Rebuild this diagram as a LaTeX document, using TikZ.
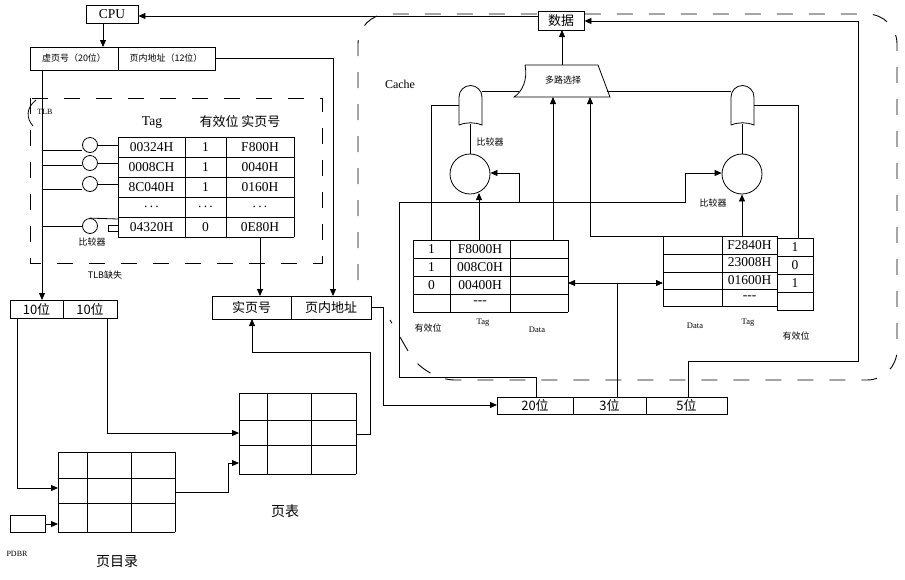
\documentclass[tikz,border=0pt]{standalone}
\usepackage{fontspec}
\setmainfont{Liberation Serif}
\newfontfamily\cjk{Noto Sans CJK SC}
\usetikzlibrary{arrows.meta}
\newcommand\mydots{.\,.\,.}
\newcommand\mydash{{-}{-}{-}}
\begin{document}
\begin{tikzpicture}[x=1pt,y=-1pt,line width=0.8pt,
  ar/.style={-{Triangle[length=7pt,width=6pt]}},
  dsh/.style={dash pattern=on 16pt off 16pt,line width=0.9pt},
  t/.style={font=\fontsize{13.5}{13.5}\selectfont,inner sep=0pt},
  s/.style={font=\cjk\fontsize{9}{9}\selectfont,inner sep=0pt},
  m/.style={font=\cjk\fontsize{13}{13}\selectfont,inner sep=0pt},
  box/.style={draw,inner sep=0pt}]
\useasboundingbox (0,0) rectangle (905,579);
% CPU and address
\node[box,minimum width=52pt,minimum height=18pt,t] (cpu) at (112,14) {CPU};
\draw (30,47) rectangle (215,70); \draw (118,47)--(118,70);
\node[s] (vp) at (74,58.5) {虚页号（20位）};
\node[s] (po) at (166,58.5) {页内地址（12位）};
\draw[ar] (103,23)--(103,47);
% TLB dashed box
\draw[dsh] (30,98) rectangle (322,263);
\node[s,fill=white,inner sep=1pt,font=\fontsize{8}{8}\selectfont] (tlb) at (45,112) {TLB};
\draw (36,100) .. controls (26,108) and (26,118) .. (33,126);
\node[t] (tagh) at (152,123) {Tag};
\node[m] (h2) at (240,122) {有效位 实页号};
% TLB table
\foreach \y in {137,157,177,197,217,237} \draw (118,\y)--(294,\y);
\foreach \x in {118,185,226,294} \draw (\x,137)--(\x,237);
\foreach \r/\a/\b/\c in {0/00324H/1/F800H,1/0008CH/1/0040H,2/8C040H/1/0160H,3/\mydots/\mydots/\mydots,4/04320H/0/0E80H}{
  \node[t] at (151.5,147+20*\r) {\a};
  \node[t] at (205.5,147+20*\r) {\b};
  \node[t] at (260,147+20*\r) {\c};}
% comparators
\foreach \n/\cy/\ly/\ry in {c1/145/150/145,c2/163/165/163,c3/184/189/184}{
  \node[draw,circle,minimum size=15pt,inner sep=0pt,fill=white] (\n) at (90,\cy) {};
  \draw (42,\ly)--(\n.west|-0,\ly);
  \draw (\n.east|-0,\ry)--(118,\ry);}
\node[draw,circle,minimum size=15pt,inner sep=0pt,fill=white] (c4) at (90,226) {};
\draw (42,226)--(c4.west); \draw (c4.north)--(118,219);
\draw (108,225) rectangle (118,231);
\node[s] (cmp1) at (92,242) {比较器};
\node[s,fill=white,inner sep=1pt] (miss) at (105,275) {TLB缺失};
% 10/10 box
\draw (10,300) rectangle (117,318); \draw (63,300)--(63,318);
\node[m] (b1) at (36.5,309) {10位}; \node[m] (b2) at (90,309) {10位};
\draw[ar] (42,70)--(42,300);
% real address box
\draw (212,296) rectangle (371,319); \draw (291,296)--(291,319);
\node[m] (rp) at (251.5,307.5) {实页号}; \node[m] (ro) at (331,307.5) {页内地址};
\draw[ar] (215,58)--(333,58)--(333,296);
\draw[ar] (260,237)--(260,296);
% page directory and page table
\foreach \y in {452,478,503,532} \draw (58,\y)--(175,\y);
\foreach \x in {58,87,131,175} \draw (\x,452)--(\x,532);
\foreach \y in {393,420,445,474} \draw (239,\y)--(356,\y);
\foreach \x in {239,267,311,356} \draw (\x,393)--(\x,474);
\draw[ar] (17,318)--(17,488)--(58,488);
\draw[ar] (107,318)--(107,433)--(239,433);
\draw[ar] (175,492)--(228,492)--(228,463)--(239,463);
\draw (10,515) rectangle (45,532);
\draw[ar] (45,524)--(58,524);
\node[s,font=\fontsize{8}{8}\selectfont] (pdbr) at (17,554) {PDBR};
\node[m,font=\cjk\fontsize{14}{14}\selectfont] (pdl) at (117,562) {页目录};
\node[m,font=\cjk\fontsize{14}{14}\selectfont] (ptl) at (285,511) {页表};
\draw[ar] (356,434)--(370,434)--(370,352)--(252,352)--(252,319);
% cache region
\draw[dsh,rounded corners=30pt] (358,280)--(358,14)--(897,14)--(897,380)--(425,380)--(390,320);
\node[font=\fontsize{12}{12}\selectfont] (cache) at (400,84) {Cache};
\node[box,minimum width=46pt,minimum height=19pt,m,fill=white] (data) at (561,20.5) {数据};
\draw[ar] (538,16)--(cpu.east|-0,16);
% mux
\draw[fill=white] (525,65)--(598,65)--(610,97)--(514,97) .. controls (522,92) and (528,80) .. (525,65);
\node[s] (mux) at (563,80) {多路选择};
\draw[ar] (562,65)--(562,30);
% AND gates
\foreach \gx in {459,731}{
  \draw (\gx,125)--(\gx,97) arc[start angle=180,end angle=360,radius=11.5]--(\gx+23,125) .. controls (\gx+15,122) and (\gx+8,122) .. (\gx,125);}
\draw (482,91)--(519,91);
\draw (731,91)--(607,91);
\draw (459,105)--(431,105)--(431,240);
\draw (754,105)--(798,105)--(798,238);
% comparators cache
\node[draw,circle,minimum size=40pt,inner sep=0pt] (lc) at (470,174) {};
\node[draw,circle,minimum size=40pt,inner sep=0pt] (rc) at (742,174) {};
\draw (470,124)--(lc.north); \draw (742,124)--(rc.north);
\node[s] (cmpl) at (490,142) {比较器};
\node[s] (cmpr) at (713,203) {比较器};
\draw[ar] (479,240)--(479,193);
\draw[ar] (742,236)--(rc.south);
\draw[ar] (519,202)--(519,173)--(lc.east|-0,173);
\draw[ar] (399,377)--(399,202)--(685,202)--(685,173)--(rc.west|-0,173);
\draw (399,377)--(536,377)--(536,397);
% left cache table
\foreach \y in {240,258,276,294,312} \draw (413,\y)--(568,\y);
\foreach \x in {413,450,510,568} \draw (\x,240)--(\x,312);
\foreach \r/\a/\b in {0/1/F8000H,1/1/008C0H,2/0/00400H,3//\mydash}{
  \node[t] at (431.5,249+18*\r) {\a}; \node[t] at (480,249+18*\r) {\b};}
% right cache table
\foreach \y in {236,254,272,289,306} \draw (663,\y)--(777,\y);
\foreach \x in {663,722,777} \draw (\x,236)--(\x,306);
\draw (777,238) rectangle (813,310);
\foreach \y in {256,274,292} \draw (777,\y)--(813,\y);
\foreach \r/\a/\b in {0/F2840H/1,1/23008H/0,2/01600H/1,3/\mydash/}{
  \node[t] at (749.5,245+17.5*\r) {\a}; \node[t] at (795,247+18*\r) {\b};}
\draw[ar] (553,240)--(553,97);
\draw[ar] (663,236)--(590,236)--(590,97);
\draw[{Triangle[length=7pt,width=6pt]}-{Triangle[length=7pt,width=6pt]}] (568,283)--(663,283);
\draw (617,283)--(617,397);
% labels
\node[s] at (428,328) {有效位};
\node[s,font=\fontsize{8.5}{8.5}\selectfont] at (483,323) {Tag};
\node[s,font=\fontsize{8.5}{8.5}\selectfont] at (537,330) {Data};
\node[s,font=\fontsize{8.5}{8.5}\selectfont] at (695,326) {Data};
\node[s,font=\fontsize{8.5}{8.5}\selectfont] at (748,323) {Tag};
\node[s] at (796,336) {有效位};
% cache address
\draw (497,397) rectangle (727,414); \draw (573,397)--(573,414); \draw (646,397)--(646,414);
\node[m] (a20) at (535,405.5) {20位}; \node[m] (a3) at (609.5,405.5) {3位}; \node[m] (a5) at (686.5,405.5) {5位};
\draw[ar] (371,307)--(383,307)--(383,405)--(497,405);
\draw[ar] (688,397)--(688,361)--(858,361)--(858,21)--(data.east|-0,21);
\end{tikzpicture}
\end{document}
